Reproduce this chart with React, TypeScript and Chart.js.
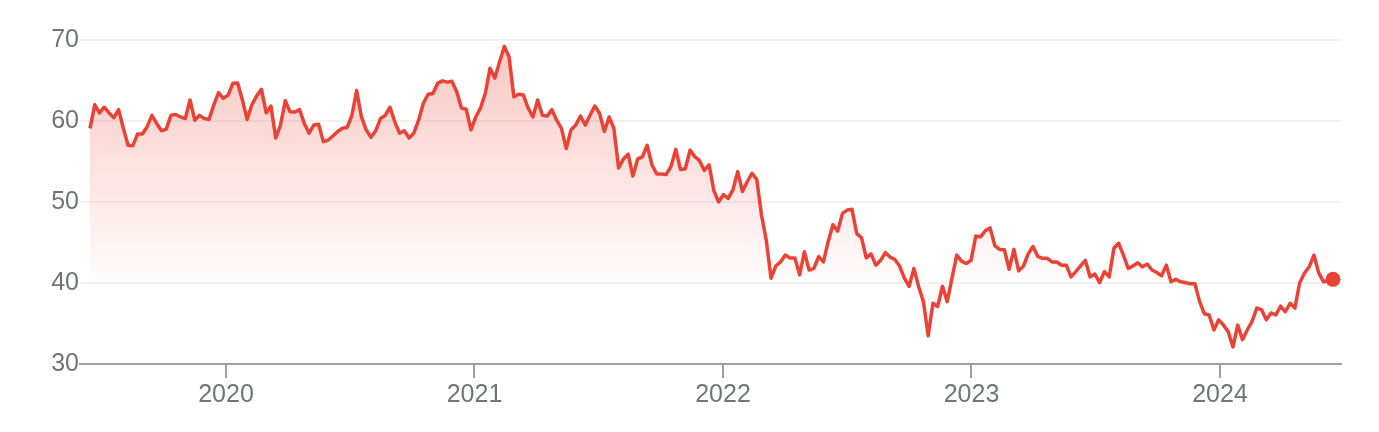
import React, { useEffect, useRef } from "react";
import { Chart, registerables } from "chart.js";

Chart.register(...registerables);

// Weekly closes, first one mid-June 2019
const START_YEAR = 2019.4527;
const WEEK_IN_YEARS = 7 / 365.25;

const yearTicks = [2020, 2021, 2022, 2023, 2024];
const valueTicks = [30, 40, 50, 60, 70];

const prices2019to2020 = [
  59.1, 62.0, 61.0, 61.7, 61.0, 60.4, 61.4, 59.1, 57.0, 56.95,
  58.4, 58.4, 59.3, 60.7, 59.7, 58.8, 59.0, 60.7, 60.8, 60.5,
  60.3, 62.6, 60.1, 60.7, 60.3, 60.2, 62.0, 63.5, 62.8, 63.2,
  64.65, 64.7, 62.6, 60.2, 62.0, 63.1, 63.9, 61.0, 61.85, 57.9,
  59.5, 62.5, 61.15, 61.1, 61.4, 59.7, 58.5, 59.5, 59.6, 57.45,
  57.65, 58.15, 58.7, 59.1, 59.2, 60.7, 63.75, 60.5, 58.9, 58.0,
  58.8, 60.3, 60.7, 61.7, 59.9, 58.5, 58.8, 57.9, 58.5, 60.1,
  62.2, 63.3, 63.4, 64.65, 64.95, 64.8, 64.9, 63.6,
];

const prices2021to2022 = [
  61.6, 61.45, 58.9, 60.5, 61.6, 63.4, 66.5, 65.3, 67.3, 69.2,
  67.9, 63.0, 63.3, 63.2, 61.6, 60.5, 62.6, 60.7, 60.6, 61.4,
  60.1, 59.1, 56.6, 58.9, 59.5, 60.6, 59.5, 60.7, 61.85, 60.95,
  58.7, 60.5, 59.1, 54.2, 55.3, 55.9, 53.2, 55.3, 55.6, 57.0,
  54.6, 53.45, 53.45, 53.4, 54.4, 56.5, 54.0, 54.1, 56.4, 55.6,
  55.1, 53.9, 54.6, 51.4, 50.0, 50.9, 50.45, 51.5, 53.75, 51.3,
  52.5, 53.55, 52.8, 48.4, 45.3, 40.6, 42.1, 42.6, 43.45, 43.1,
  43.1, 41.0, 43.85, 41.6, 41.8, 43.25, 42.6, 45.1, 47.2, 46.4,
  48.6, 49.0, 49.1, 46.1, 45.6, 43.1, 43.6, 42.2, 42.8, 43.75,
  43.2, 42.9, 42.1, 40.6, 39.6, 41.8, 39.55,
];

const prices2022to2024 = [
  37.7, 33.5, 37.5, 37.1, 39.6, 37.7, 40.6, 43.45, 42.7, 42.4,
  42.8, 45.8, 45.7, 46.45, 46.8, 44.6, 44.15, 44.1, 41.7, 44.15,
  41.5, 42.1, 43.6, 44.5, 43.3, 43.05, 43.05, 42.6, 42.6, 42.2,
  42.2, 40.75, 41.4, 42.1, 42.8, 40.75, 41.1, 40.05, 41.4, 40.75,
  44.3, 44.9, 43.45, 41.8, 42.1, 42.5, 42.0, 42.35, 41.6, 41.3,
  40.9, 42.2, 40.15, 40.45, 40.15, 40.05, 39.9, 39.9, 37.7, 36.2,
  36.05, 34.2, 35.45, 34.8, 34.0, 32.1, 34.8, 33.0, 34.2, 35.25,
  36.9, 36.7, 35.45, 36.3, 36.05, 37.15, 36.45, 37.5, 36.9, 40.0,
  41.2, 42.0, 43.45, 41.25, 40.15, 40.3, 40.45,
];

const prices = [...prices2019to2020, ...prices2021to2022, ...prices2022to2024];

const RED = "#ea4335";
const AXIS_GRAY = "#9aa0a6";
const TEXT_GRAY = "#70757a";
const GRID = "#f2f2f2";
const FONT = "'Liberation Sans', Arial, sans-serif";

export default function App() {
  const canvasRef = useRef<HTMLCanvasElement | null>(null);

  useEffect(() => {
    const canvas = canvasRef.current;
    if (!canvas) return;
    const points = prices.map((v, i) => ({ x: START_YEAR + i * WEEK_IN_YEARS, y: v }));
    const last = points.length - 1;

    const chart = new Chart(canvas, {
      type: "line",
      data: {
        datasets: [
          {
            data: points,
            borderColor: RED,
            borderWidth: 3.5,
            borderJoinStyle: "round",
            tension: 0,
            fill: "start",
            backgroundColor: (ctx: any) => {
              const { chart } = ctx;
              const area = chart.chartArea;
              if (!area) return "rgba(234,67,53,0.2)";
              const g = chart.ctx.createLinearGradient(0, area.top, 0, area.bottom);
              g.addColorStop(0, "rgba(234,67,53,0.30)");
              g.addColorStop(0.78, "rgba(234,67,53,0)");
              g.addColorStop(1, "rgba(234,67,53,0)");
              return g;
            },
            pointRadius: (ctx: any) => (ctx.dataIndex === last ? 7.5 : 0),
            pointHoverRadius: (ctx: any) => (ctx.dataIndex === last ? 7.5 : 0),
            pointBackgroundColor: RED,
            pointBorderColor: RED,
            pointBorderWidth: 0,
          },
        ],
      },
      options: {
        responsive: false,
        animation: false,
        layout: { padding: { top: 32, right: 30, left: 0, bottom: 0 } },
        plugins: {
          legend: { display: false },
          tooltip: { enabled: false },
        },
        scales: {
          x: {
            type: "linear",
            min: 2019.4125,
            max: 2024.487,
            afterBuildTicks: (scale: any) => {
              scale.ticks = yearTicks.map((v) => ({ value: v }));
            },
            afterFit: (scale: any) => {
              scale.height = 60;
            },
            grid: {
              drawOnChartArea: false,
              drawTicks: true,
              tickLength: 14,
              color: AXIS_GRAY,
              lineWidth: 2,
            },
            border: { display: true, color: AXIS_GRAY, width: 2 },
            ticks: {
              autoSkip: false,
              maxRotation: 0,
              padding: 2,
              color: TEXT_GRAY,
              font: { family: FONT, size: 25 },
              callback: (v: any) => String(v),
            },
          },
          y: {
            min: 30,
            max: 70,
            afterBuildTicks: (scale: any) => {
              scale.ticks = valueTicks.map((v) => ({ value: v }));
            },
            afterFit: (scale: any) => {
              scale.width = 72;
            },
            grid: {
              drawTicks: false,
              color: GRID,
              lineWidth: 2,
            },
            border: { display: false },
            ticks: {
              padding: 1,
              color: TEXT_GRAY,
              font: { family: FONT, size: 25 },
              callback: (v: any) => String(v),
            },
          },
        },
      },
    } as any);

    return () => chart.destroy();
  }, []);

  return (
    <div style={{ width: 1363, height: 416 }}>
      <canvas ref={canvasRef} width={1363} height={416} style={{ display: "block" }} />
    </div>
  );
}
